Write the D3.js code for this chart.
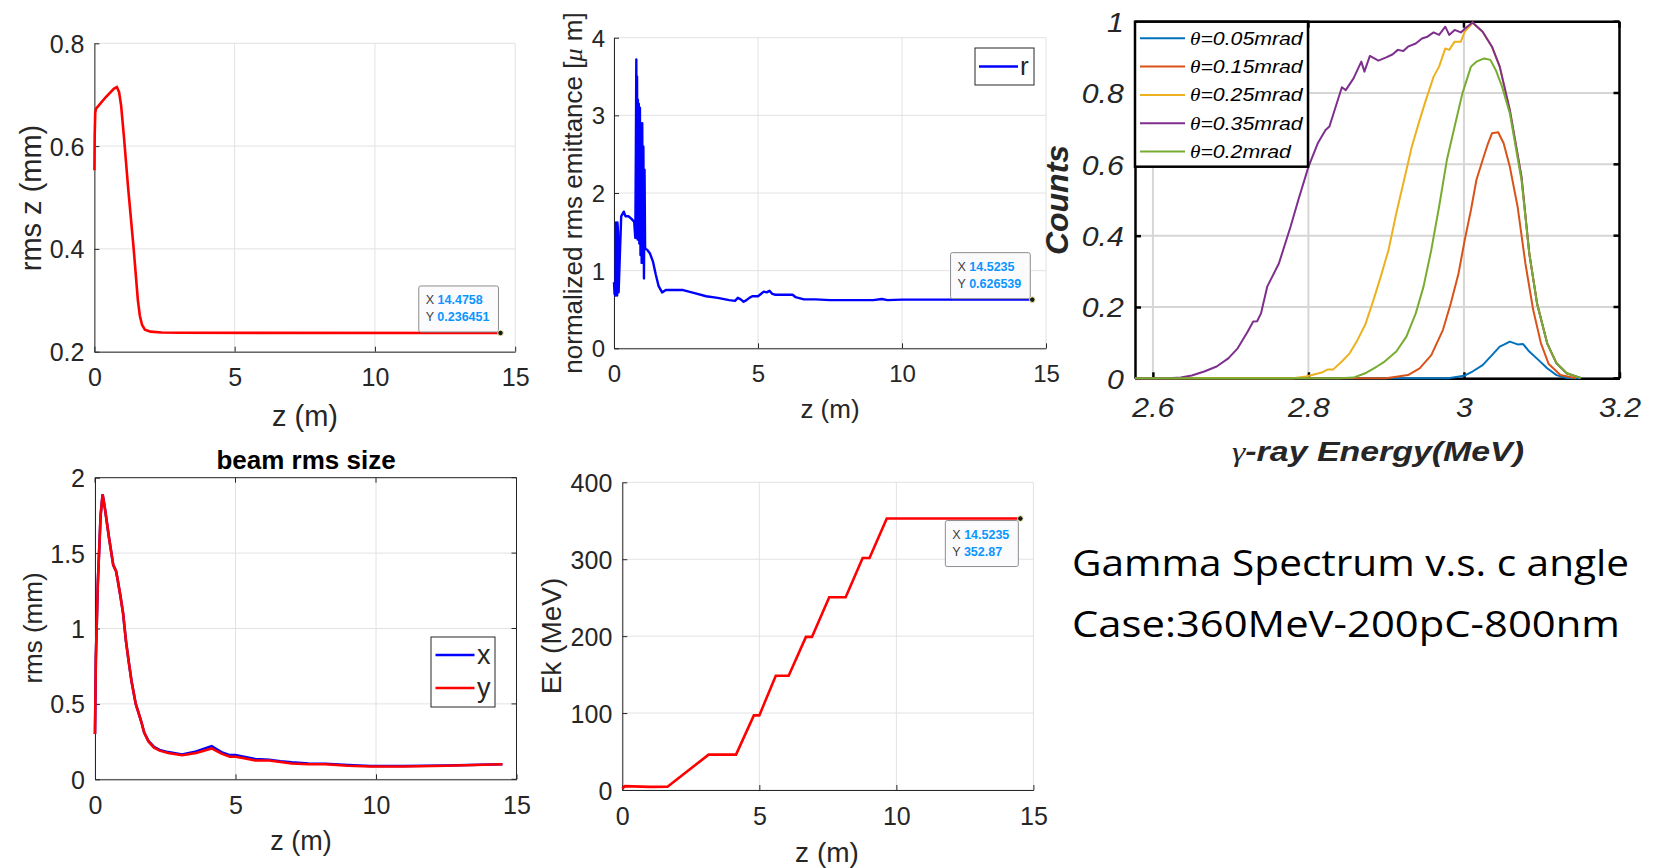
<!DOCTYPE html>
<html>
<head>
<meta charset="utf-8">
<script src="https://cdn.jsdelivr.net/npm/d3@7"></script>
<style>
  body { margin: 0; background: #fff; }
  svg text { font-family: "Liberation Sans", Arial, sans-serif; }
</style>
</head>
<body>
<svg id="fig" width="1654" height="868"></svg>
<script>
// ---- data ----
// rms z (mm) vs z (m)
const rmsZ = [[0,0.553],[0.01,0.62],[0.03,0.665],[0.06,0.673],[0.4,0.695],[0.7,0.712],[0.8,0.715],[0.88,0.705],
  [0.95,0.68],[1.05,0.62],[1.2,0.52],[1.4,0.4],[1.55,0.3],[1.62,0.27],[1.7,0.252],[1.8,0.243],[2.0,0.239],
  [2.4,0.2375],[3,0.237],[6,0.2366],[14.4758,0.236451]];

// normalized rms emittance (um) vs z (m)
const emitR = [[0,0.85],[0.02,0.7],[0.05,0.68],[0.07,1.62],[0.08,1.6],[0.1,0.7],[0.11,0.68],[0.12,1.62],[0.14,1.5],
  [0.16,0.72],[0.25,1.7],[0.34,1.76],[0.4,1.7],[0.5,1.7],[0.6,1.67],[0.7,1.63],[0.74,1.42],[0.76,2.6],[0.775,3.72],
  [0.79,1.5],[0.8,3.5],[0.82,1.4],[0.83,3.2],[0.85,1.4],[0.86,3.15],[0.88,1.35],[0.9,3.1],[0.92,1.2],[0.94,2.9],
  [0.96,1.1],[0.98,2.9],[1.0,1.2],[1.02,2.6],[1.04,0.9],[1.06,2.3],[1.08,1.3],[1.1,1.28],[1.15,1.27],[1.25,1.22],
  [1.35,1.12],[1.45,0.95],[1.55,0.8],[1.67,0.72],[1.8,0.75],[2.0,0.75],[2.4,0.75],[2.8,0.71],[3.2,0.67],[3.6,0.65],
  [4.0,0.62],[4.2,0.61],[4.3,0.65],[4.4,0.63],[4.5,0.6],[4.6,0.62],[4.7,0.65],[4.8,0.67],[5.0,0.67],[5.1,0.7],
  [5.2,0.73],[5.3,0.72],[5.4,0.74],[5.5,0.7],[5.6,0.69],[6.0,0.69],[6.2,0.69],[6.3,0.66],[6.4,0.65],[6.6,0.63],
  [7.0,0.63],[7.5,0.62],[8.0,0.62],[8.5,0.62],[9.0,0.62],[9.3,0.635],[9.5,0.62],[10,0.627],[12,0.627],[14.5235,0.626539]];

// beam rms size (mm) vs z (m)
const sizeZ = [0,0.03,0.1,0.2,0.27,0.35,0.5,0.65,0.75,0.8,0.9,1.0,1.1,1.2,1.3,1.45,1.6,1.65,1.75,1.9,2.1,2.3,2.6,3.1,3.6,
  4.15,4.5,4.8,5.0,5.3,5.7,6.2,6.6,7.0,7.6,8.2,9.0,9.8,11,12.5,14.5];
const sizeX = [0.3,0.8,1.3,1.75,1.89,1.8,1.6,1.42,1.38,1.33,1.22,1.1,0.92,0.78,0.65,0.5,0.41,0.38,0.31,0.255,0.215,0.195,
  0.18,0.165,0.185,0.22,0.18,0.16,0.16,0.15,0.135,0.13,0.12,0.112,0.105,0.103,0.095,0.088,0.088,0.092,0.1];
const sizeY = [0.3,0.8,1.3,1.75,1.89,1.8,1.6,1.42,1.38,1.33,1.22,1.1,0.92,0.78,0.65,0.5,0.41,0.38,0.31,0.25,0.21,0.19,
  0.175,0.16,0.175,0.205,0.17,0.15,0.15,0.14,0.125,0.125,0.115,0.105,0.1,0.1,0.09,0.085,0.085,0.09,0.1];

// Ek (MeV) vs z (m)
const ekZ = [0,0.1,1.0,1.65,3.15,4.15,4.8,5.0,5.6,6.07,6.7,6.92,7.55,8.15,8.77,9.02,9.65,14.5235];
const ekV = [2,5,4,4.3,46,46,97,97,148.6,148.6,199,199,250.5,250.5,301.6,301.6,352.87,352.87];

// gamma spectra: counts vs energy (MeV)
const specNames = ["0.05mrad","0.15mrad","0.25mrad","0.35mrad","0.2mrad"];
const spec005 = [[2.577,0],[2.98,0],[3.0,0.007],[3.011,0.019],[3.024,0.037],[3.036,0.065],[3.046,0.089],[3.052,0.095],
  [3.059,0.103],[3.069,0.095],[3.076,0.096],[3.084,0.075],[3.096,0.051],[3.107,0.028],[3.119,0.009],[3.132,0.001],[3.15,0]];
const spec015 = [[2.577,0],[2.9,0],[2.928,0.009],[2.943,0.028],[2.958,0.065],[2.973,0.136],[2.983,0.21],[2.993,0.294],
  [3.001,0.388],[3.009,0.472],[3.016,0.556],[3.024,0.612],[3.031,0.659],[3.036,0.687],[3.044,0.69],[3.051,0.659],
  [3.059,0.593],[3.069,0.481],[3.079,0.322],[3.089,0.192],[3.099,0.098],[3.109,0.04],[3.124,0.009],[3.144,0]];
const spec025 = [[2.577,0],[2.78,0],[2.797,0.005],[2.817,0.016],[2.825,0.025],[2.832,0.025],[2.843,0.047],[2.853,0.07],
  [2.863,0.107],[2.873,0.15],[2.883,0.215],[2.893,0.285],[2.903,0.36],[2.913,0.463],[2.923,0.556],[2.933,0.65],
  [2.943,0.724],[2.951,0.78],[2.961,0.846],[2.968,0.874],[2.976,0.925],[2.981,0.921],[2.988,0.944],[2.996,0.944],
  [3.001,0.972],[3.009,0.991],[3.011,0.998],[3.024,0.972],[3.036,0.93],[3.046,0.874],[3.059,0.752],[3.074,0.565],
  [3.084,0.35],[3.094,0.21],[3.107,0.098],[3.119,0.042],[3.132,0.014],[3.149,0.002],[3.15,0]];
const spec035 = [[2.577,0],[2.62,0],[2.636,0.002],[2.65,0.008],[2.666,0.019],[2.682,0.033],[2.697,0.056],[2.709,0.084],
  [2.722,0.131],[2.729,0.159],[2.734,0.16],[2.739,0.182],[2.747,0.257],[2.762,0.322],[2.777,0.425],[2.787,0.5],
  [2.8,0.593],[2.812,0.659],[2.822,0.696],[2.827,0.706],[2.843,0.816],[2.848,0.808],[2.858,0.841],[2.868,0.888],
  [2.872,0.86],[2.879,0.904],[2.89,0.891],[2.9,0.9],[2.908,0.908],[2.915,0.921],[2.922,0.918],[2.928,0.93],
  [2.938,0.939],[2.946,0.953],[2.953,0.958],[2.961,0.97],[2.968,0.963],[2.976,0.986],[2.981,0.963],[2.988,0.977],
  [2.996,0.97],[3.003,0.984],[3.011,0.998],[3.024,0.972],[3.036,0.93],[3.046,0.874],[3.059,0.752],[3.074,0.565],
  [3.084,0.35],[3.094,0.21],[3.107,0.098],[3.119,0.042],[3.132,0.014],[3.149,0.002],[3.15,0]];
const spec02 = [[2.577,0],[2.84,0],[2.858,0.002],[2.873,0.014],[2.888,0.033],[2.898,0.047],[2.913,0.075],[2.926,0.117],
  [2.938,0.182],[2.948,0.257],[2.958,0.36],[2.968,0.481],[2.978,0.612],[2.988,0.706],[2.998,0.799],[3.009,0.874],
  [3.016,0.888],[3.026,0.897],[3.034,0.893],[3.041,0.864],[3.049,0.818],[3.059,0.743],[3.074,0.556],[3.084,0.35],
  [3.094,0.21],[3.107,0.098],[3.119,0.042],[3.132,0.014],[3.149,0.002],[3.15,0]];

// tick labels
const zTicks = [0, 5, 10, 15];
const rmsZTicks = [0.2, 0.4, 0.6, 0.8];
const emitTicks = [0, 1, 2, 3, 4];
const sizeTicks = [0, 0.5, 1, 1.5, 2];
const ekTicks = [0, 100, 200, 300, 400];
const eTicks = [2.6, 2.8, 3, 3.2];
const cTicks = [0, 0.2, 0.4, 0.6, 0.8, 1];

const svg = d3.select("#fig");
const ink = "#262626";

// MATLAB style axes
function makeAxes(o) {
  const g = svg.append("g");
  const x = d3.scaleLinear().domain(o.xDomain).range([o.left, o.right]);
  const y = d3.scaleLinear().domain(o.yDomain).range([o.bottom, o.top]);
  const grid = g.append("g");
  grid.selectAll(".gx").data(o.xTicks).join("line")
    .attr("x1", d => x(d)).attr("x2", d => x(d)).attr("y1", o.top).attr("y2", o.bottom)
    .attr("stroke", o.gridColor || "#e2e2e2").attr("stroke-width", o.gridWidth || 1);
  grid.selectAll(".gy").data(o.yTicks).join("line")
    .attr("x1", o.left).attr("x2", o.right).attr("y1", d => y(d)).attr("y2", d => y(d))
    .attr("stroke", o.gridColor || "#e2e2e2").attr("stroke-width", o.gridWidth || 1);

  const lc = o.axisColor || ink, lw = o.axisWidth || 1, tk = o.tick || 5;
  const xa = g.append("g").attr("transform", `translate(0,${o.bottom})`)
    .call(d3.axisBottom(x).tickValues(o.xTicks).tickFormat(d => String(d)).tickSize(-tk).tickSizeOuter(0).tickPadding(o.xPad || 17));
  const ya = g.append("g").attr("transform", `translate(${o.left},0)`)
    .call(d3.axisLeft(y).tickValues(o.yTicks).tickFormat(d => String(d)).tickSize(-tk).tickSizeOuter(0).tickPadding(o.yPad || 10));
  [xa, ya].forEach(a => {
    a.select(".domain").attr("stroke", lc).attr("stroke-width", lw);
    a.selectAll(".tick line").attr("stroke", lc).attr("stroke-width", lw);
    a.selectAll(".tick text").attr("fill", ink).style("font-size", (o.tickFont || 25) + "px")
      .style("font-style", o.italic ? "italic" : "normal");
    if (o.stretch) a.selectAll(".tick text").attr("transform", `scale(${o.stretch},1)`);
  });
  ya.selectAll(".tick text").attr("dy", "0.36em");
  if (o.box) {
    g.append("line").attr("x1", o.left).attr("x2", o.right).attr("y1", o.top).attr("y2", o.top)
      .attr("stroke", lc).attr("stroke-width", lw);
    g.append("line").attr("x1", o.right).attr("x2", o.right).attr("y1", o.top).attr("y2", o.bottom)
      .attr("stroke", lc).attr("stroke-width", lw);
    g.selectAll(".tt").data(o.xTicks).join("line")
      .attr("x1", d => x(d)).attr("x2", d => x(d)).attr("y1", o.top).attr("y2", o.top + tk)
      .attr("stroke", lc).attr("stroke-width", lw);
    g.selectAll(".tr").data(o.yTicks).join("line")
      .attr("x1", o.right - tk).attr("x2", o.right).attr("y1", d => y(d)).attr("y2", d => y(d))
      .attr("stroke", lc).attr("stroke-width", lw);
  }
  return { g, x, y };
}

function label(txt, x, y, size, rot, extra) {
  const t = svg.append("text").attr("x", x).attr("y", y).attr("text-anchor", "middle")
    .attr("dominant-baseline", "central").attr("fill", ink).style("font-size", size + "px")
    .text(txt);
  if (rot) t.attr("transform", `rotate(-90,${x},${y})`);
  if (extra) extra(t);
  return t;
}

function datatip(ax, px, py, xs, ys, below) {
  const cx = ax.x(px), cy = ax.y(py);
  const tip = ax.g.append("g");
  const box = tip.append("rect").attr("rx", 2).attr("fill", "#fbfbfe").attr("stroke", "#8c8c8c").attr("stroke-width", 1);
  const rows = [["X", xs], ["Y", ys]].map((r, i) => {
    const t = tip.append("text").attr("y", 18 + i * 17).style("font-size", "12.5px");
    t.append("tspan").attr("fill", "#404040").text(r[0] + " ");
    t.append("tspan").attr("fill", "#0a96ff").style("font-weight", "bold").text(r[1]);
    return t;
  });
  const w = d3.max(rows, t => t.node().getComputedTextLength()) + 16, h = 46;
  const bx = cx - w - 2, by = below ? cy + 2 : cy - h - 1;
  box.attr("x", bx).attr("y", by).attr("width", w).attr("height", h);
  rows.forEach(t => t.attr("x", bx + 7).attr("transform", `translate(0,${by})`));
  ax.g.append("circle").attr("cx", cx).attr("cy", cy).attr("r", 2.8)
    .attr("fill", "#1a1a1a").attr("stroke", "#f4eeb0").attr("stroke-width", 1);
}

const line = (ax) => d3.line().x(d => ax.x(d[0])).y(d => ax.y(d[1]));

// ---- panel 1: rms z ----
const a1 = makeAxes({ left: 94.4, right: 515.2, top: 43.3, bottom: 351.7, xDomain: [0, 15], yDomain: [0.2, 0.8],
  xTicks: zTicks, yTicks: rmsZTicks });
a1.g.append("path").datum(rmsZ).attr("d", line(a1)).attr("fill", "none").attr("stroke", "#ff0000").attr("stroke-width", 2.6);
datatip(a1, 14.4758, 0.236451, "14.4758", "0.236451", false);
label("z (m)", 305, 416, 29);
label("rms z (mm)", 31, 198, 29, true);

// ---- panel 2: emittance ----
const a2 = makeAxes({ left: 614, right: 1046, top: 37.7, bottom: 348.3, xDomain: [0, 15], yDomain: [0, 4],
  xTicks: zTicks, yTicks: emitTicks, tickFont: 24, yPad: 9 });
a2.g.append("path").datum(emitR).attr("d", line(a2)).attr("fill", "none").attr("stroke", "#0000ff")
  .attr("stroke-width", 2.4).attr("stroke-linejoin", "round");
datatip(a2, 14.5235, 0.626539, "14.5235", "0.626539", false);
a2.g.append("rect").attr("x", 975).attr("y", 48).attr("width", 59).attr("height", 37)
  .attr("fill", "#fff").attr("stroke", "#262626").attr("stroke-width", 1);
a2.g.append("line").attr("x1", 979).attr("x2", 1018).attr("y1", 66.5).attr("y2", 66.5).attr("stroke", "#0000ff").attr("stroke-width", 2.6);
a2.g.append("text").attr("x", 1020).attr("y", 75).attr("fill", ink).style("font-size", "26px").text("r");
label("z (m)", 830, 409, 26);
label("", 573, 193, 26, true, t => {
  t.append("tspan").text("normalized rms emittance [");
  t.append("tspan").style("font-style", "italic").style("font-family", "Liberation Serif").text("μ");
  t.append("tspan").text(" m]");
});

// ---- panel 4: beam rms size ----
const a4 = makeAxes({ left: 95, right: 516.5, top: 477.7, bottom: 779.3, xDomain: [0, 15], yDomain: [0, 2],
  xTicks: zTicks, yTicks: sizeTicks, box: true });
a4.g.append("path").datum(sizeZ.map((z, i) => [z, sizeX[i]])).attr("d", line(a4)).attr("fill", "none")
  .attr("stroke", "#0000ff").attr("stroke-width", 2.6);
a4.g.append("path").datum(sizeZ.map((z, i) => [z, sizeY[i]])).attr("d", line(a4)).attr("fill", "none")
  .attr("stroke", "#ff0000").attr("stroke-width", 2.6);
a4.g.append("rect").attr("x", 431).attr("y", 637).attr("width", 64).attr("height", 70)
  .attr("fill", "#fff").attr("stroke", "#262626").attr("stroke-width", 1);
[["x", "#0000ff", 655], ["y", "#ff0000", 688]].forEach(r => {
  a4.g.append("line").attr("x1", 435.5).attr("x2", 474.5).attr("y1", r[2]).attr("y2", r[2]).attr("stroke", r[1]).attr("stroke-width", 2.6);
  a4.g.append("text").attr("x", 477).attr("y", r[2]).attr("dominant-baseline", "central").attr("fill", ink)
    .style("font-size", "27px").text(r[0]);
});
label("beam rms size", 306, 460, 26, false, t => t.style("font-weight", "bold").attr("fill", "#000"));
label("z (m)", 301, 841, 27);
label("rms (mm)", 33, 628, 26, true);

// ---- panel 5: Ek ----
const a5 = makeAxes({ left: 622.3, right: 1033.4, top: 482.3, bottom: 790, xDomain: [0, 15], yDomain: [0, 400],
  xTicks: zTicks, yTicks: ekTicks });
a5.g.append("path").datum(ekZ.map((z, i) => [z, ekV[i]])).attr("d", line(a5)).attr("fill", "none")
  .attr("stroke", "#ff0000").attr("stroke-width", 2.6);
datatip(a5, 14.5235, 352.87, "14.5235", "352.87", true);
label("z (m)", 827, 852, 28);
label("Ek (MeV)", 551, 636, 28, true);

// ---- panel 3: gamma spectrum ----
const a3 = makeAxes({ left: 1135, right: 1619.5, top: 21.7, bottom: 378.3, xDomain: [2.577, 3.2], yDomain: [0, 1],
  xTicks: eTicks, yTicks: cTicks, box: true, axisColor: "#000", axisWidth: 2.5, tick: 6,
  gridColor: "#d6d6d6", gridWidth: 2, italic: true, tickFont: 27, xPad: 20, yPad: 10, stretch: 1.12 });
const specColors = ["#0072BD", "#D95319", "#EDB120", "#7E2F8E", "#77AC30"];
const specSeries = [spec005, spec015, spec025, spec035, spec02];
specSeries.forEach((s, i) => {
  a3.g.append("path").datum(s).attr("d", line(a3)).attr("fill", "none")
    .attr("stroke", specColors[i]).attr("stroke-width", 2).attr("stroke-linejoin", "round");
});
a3.g.append("rect").attr("x", 1135).attr("y", 21.7).attr("width", 173).attr("height", 145)
  .attr("fill", "#fff").attr("stroke", "#000").attr("stroke-width", 2.5);
specNames.forEach((n, i) => {
  const yy = 38.3 + i * 28.3;
  a3.g.append("line").attr("x1", 1140).attr("x2", 1185).attr("y1", yy).attr("y2", yy)
    .attr("stroke", specColors[i]).attr("stroke-width", 2);
  const t = a3.g.append("text").attr("transform", `translate(1190,${yy}) scale(1.12,1)`)
    .attr("dominant-baseline", "central").attr("fill", "#000").style("font-size", "19px").style("font-style", "italic");
  t.append("tspan").style("font-family", "Liberation Serif").text("θ");
  t.append("tspan").text("=" + n);
});
label("", 1378, 452, 27, false, t => {
  t.style("font-weight", "bold").style("font-style", "italic").attr("fill", "#262626")
    .attr("textLength", 292).attr("lengthAdjust", "spacingAndGlyphs");
  t.append("tspan").style("font-family", "Liberation Serif").style("font-weight", "normal").text("γ");
  t.append("tspan").text("-ray Energy(MeV)");
});
label("Counts", 1057, 200, 32, true, t => t.style("font-weight", "bold").style("font-style", "italic"));

// ---- slide text ----
svg.append("text").attr("x", 1072).attr("y", 576).attr("fill", "#000").style("font-family", "Open Sans")
  .style("font-size", "37px").attr("textLength", 557).attr("lengthAdjust", "spacingAndGlyphs")
  .text("Gamma Spectrum v.s. c angle");
svg.append("text").attr("x", 1072).attr("y", 637).attr("fill", "#000").style("font-family", "Open Sans")
  .style("font-size", "37px").attr("textLength", 548).attr("lengthAdjust", "spacingAndGlyphs")
  .text("Case:360MeV-200pC-800nm");
</script>
</body>
</html>
